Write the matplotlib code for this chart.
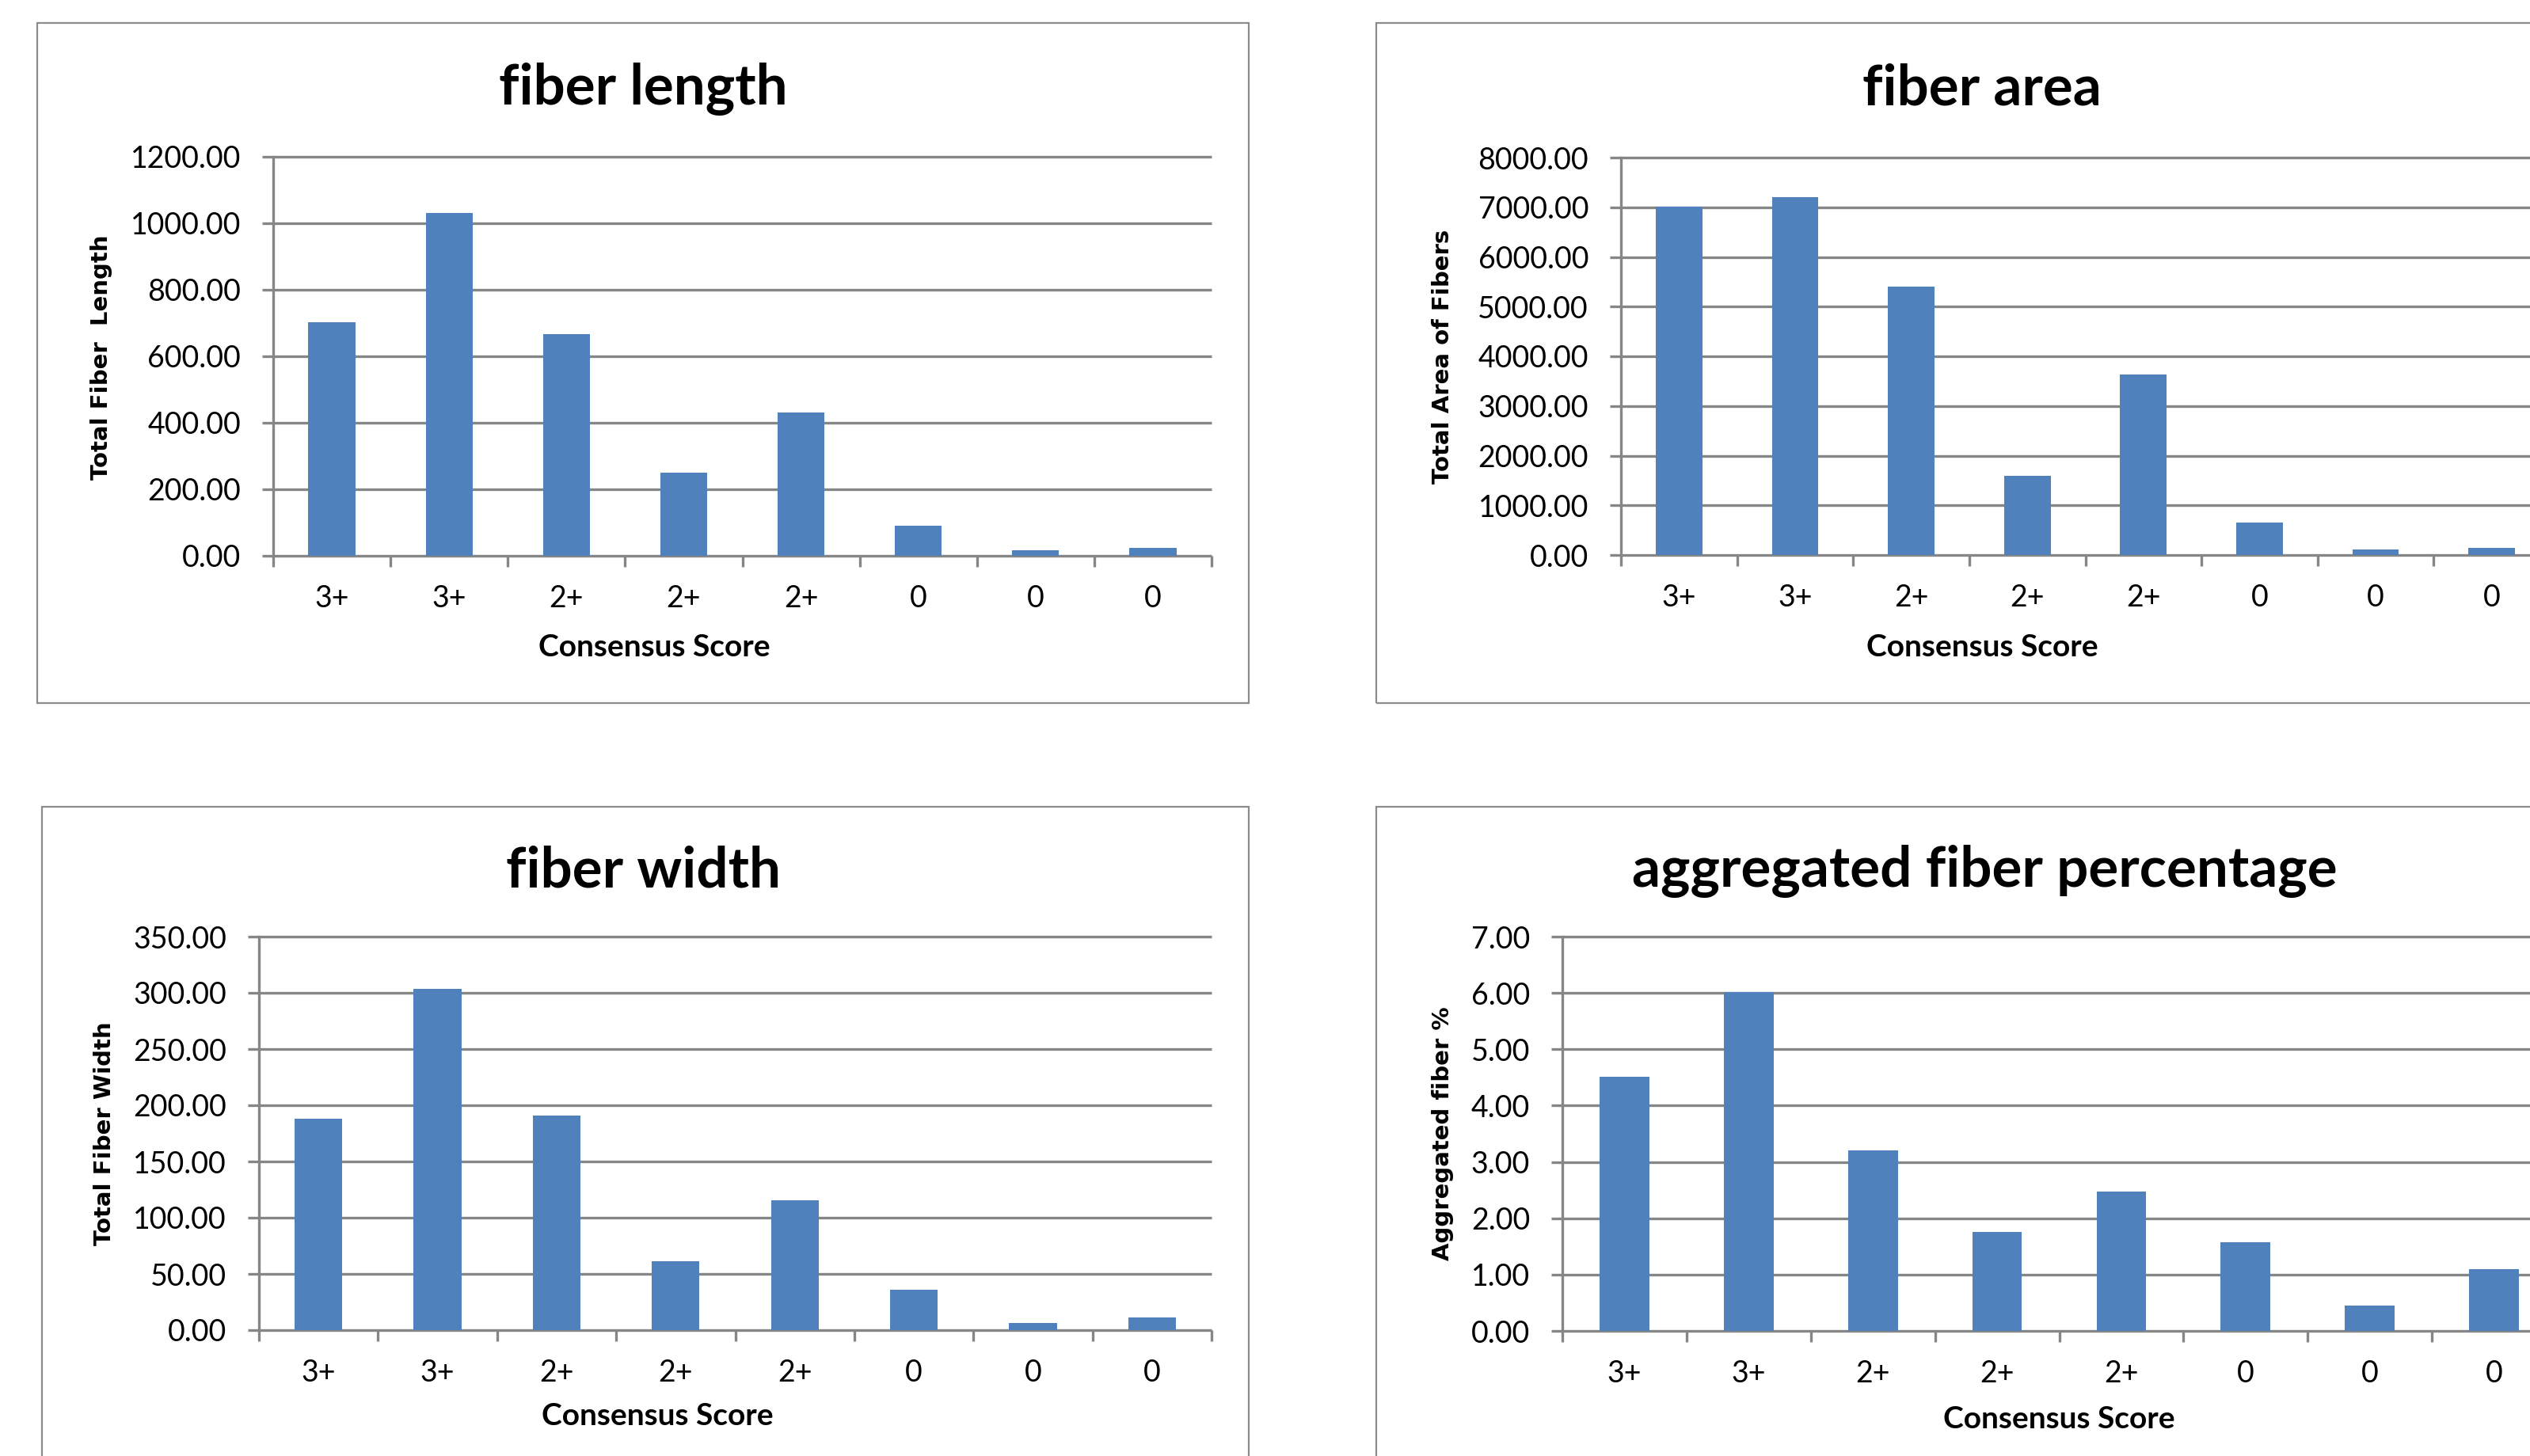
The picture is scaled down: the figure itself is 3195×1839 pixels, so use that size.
import numpy as np
import matplotlib
matplotlib.use("Agg")
import matplotlib.pyplot as plt
from matplotlib.patches import Rectangle
from matplotlib.ticker import FormatStrFormatter

# canvas size in pixels
W, H = 3195, 1839

scores = ["3+", "3+", "2+", "2+", "2+", "0", "0", "0"]
fiber_length = [703, 1030, 667, 250, 431, 90, 17, 25]
fiber_area = [7010, 7210, 5405, 1600, 3640, 660, 115, 140]
fiber_width = [188, 303.5, 190.5, 61, 115.5, 36, 6.6, 11.2]
aggregated_pct = [4.51, 6.01, 3.21, 1.76, 2.48, 1.57, 0.45, 1.09]

BLUE = "#4f81bd"
GRID = "#868686"
FRAME = "#8c8c8c"

plt.rcParams["font.family"] = ["Lato", "DejaVu Sans"]


def box(x0, y0, x1, y1):
    # pixel box (top-left origin) -> figure fraction [left, bottom, w, h]
    return [x0 / W, 1 - y1 / H, (x1 - x0) / W, (y1 - y0) / H]


fig = plt.figure(figsize=(W / 100, H / 100), dpi=100)

panels = [
    dict(vals=fiber_length, ymax=1200, step=200, title="fiber length",
         ylabel="Total Fiber  Length", ax=(345, 198, 1530, 702),
         frame=(47, 29, 1577, 888), title_xy=(812, 112),
         ylab_xy=(128, 451), xlab_xy=(826, 818)),
    dict(vals=fiber_area, ymax=8000, step=1000, title="fiber area",
         ylabel="Total Area of Fibers", ax=(2047, 199, 3220, 701),
         frame=(1738, 29, 3268, 888), title_xy=(2503, 112),
         ylab_xy=(1822, 450), xlab_xy=(2503, 818)),
    dict(vals=fiber_width, ymax=350, step=50, title="fiber width",
         ylabel="Total Fiber Width", ax=(327, 1183, 1530, 1680),
         frame=(53, 1019, 1577, 1900), title_xy=(813, 1100),
         ylab_xy=(132, 1432), xlab_xy=(830, 1788)),
    dict(vals=aggregated_pct, ymax=7, step=1, title="aggregated fiber percentage",
         ylabel="Aggregated fiber %", ax=(1973, 1183, 3228, 1681),
         frame=(1738, 1019, 3268, 1900), title_xy=(2506, 1100),
         ylab_xy=(1822, 1432), xlab_xy=(2600, 1792)),
]

for p in panels:
    fx0, fy0, fx1, fy1 = p["frame"]
    fig.patches.append(Rectangle((fx0 / W, 1 - fy1 / H), (fx1 - fx0) / W, (fy1 - fy0) / H,
                                 transform=fig.transFigure, fill=False,
                                 edgecolor=FRAME, lw=1.6))

    ax = fig.add_axes(box(*p["ax"]))
    x = np.arange(len(p["vals"]))
    ax.bar(x, p["vals"], width=0.4, color=BLUE, zorder=3)
    ax.set_xlim(-0.5, len(x) - 0.5)
    ax.set_ylim(0, p["ymax"])
    yt = np.arange(0, p["ymax"] + p["step"] / 2, p["step"])
    ax.set_yticks(yt)
    ax.yaxis.set_major_formatter(FormatStrFormatter("%.2f"))
    ax.hlines(yt, -0.5, len(x) - 0.5, colors=GRID, lw=2.4, zorder=1, clip_on=False)

    for s in ["top", "right", "bottom"]:
        ax.spines[s].set_visible(False)
    ax.spines["left"].set_color(GRID)
    ax.spines["left"].set_linewidth(2.4)
    ax.set_facecolor("none")

    ax.set_xticks(x)
    ax.set_xticklabels(scores)
    ax.set_xticks(np.arange(-0.5, len(x)), minor=True)
    ax.tick_params(axis="x", which="major", length=0, pad=26, labelsize=27)
    ax.tick_params(axis="x", which="minor", length=10, width=2.4, color=GRID, direction="out")
    ax.tick_params(axis="y", length=10, width=2.4, color=GRID, pad=19.5, labelsize=27)

    fig.text(p["title_xy"][0] / W, 1 - p["title_xy"][1] / H, p["title"],
             ha="center", va="center", fontsize=51, fontweight="bold")
    fig.text(p["ylab_xy"][0] / W, 1 - p["ylab_xy"][1] / H, p["ylabel"],
             ha="center", va="center", rotation=90, fontsize=21,
             fontweight="bold", family="DejaVu Sans")
    fig.text(p["xlab_xy"][0] / W, 1 - p["xlab_xy"][1] / H, "Consensus Score",
             ha="center", va="center", fontsize=28, fontweight="bold")

fig.savefig("out.png", dpi=100)
